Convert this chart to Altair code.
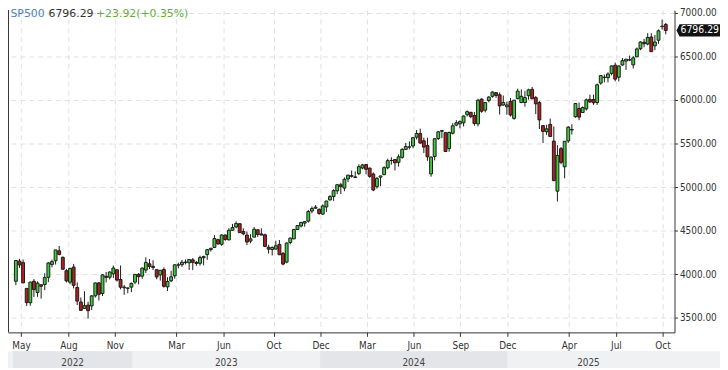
import json
import altair as alt
import pandas as pd

# ---------------- data ----------------
symbol_name = "SP500"
last_text = "6796.29"
change_text = "+23.92(+0.35%)"

opens = [3920, 4151, 4134, 3838, 3674, 3920, 3792, 3880, 3883, 3965,
         4113, 4155, 4269, 4195, 4041, 3910, 4083, 3849, 3682, 3609,
         3646, 3638, 3753, 3901, 3780, 3977, 3966, 4006, 4052, 3940,
         3853, 3843, 3853, 3911, 3999, 3979, 4049, 4120, 4091, 4053,
         3993, 4055, 3856, 3925, 3982, 4108, 4110, 4140, 4132, 4166,
         4136, 4126, 4190, 4226, 4283, 4308, 4397, 4344, 4450, 4395,
         4505, 4543, 4580, 4491, 4450, 4381, 4426, 4510, 4463, 4453,
         4310, 4284, 4289, 4343, 4239, 4140, 4364, 4406, 4514, 4554,
         4587, 4610, 4725, 4758, 4745, 4690, 4772, 4853, 4892, 4957,
         5026, 4989, 5093, 5131, 5111, 5154, 5219, 5258, 5218, 5150,
         5005, 5114, 5142, 5221, 5305, 5316, 5284, 5341, 5432, 5459,
         5471, 5572, 5614, 5531, 5476, 5151, 5351, 5557, 5640, 5624,
         5442, 5617, 5711, 5726, 5737, 5830, 5857, 5821, 5725, 6009,
         5882, 5992, 6041, 6083, 6058, 5941, 5921, 5982, 5788, 6014,
         5970, 5970, 6048, 6121, 6026, 5969, 5705, 5635, 5718, 5527,
         4953, 5441, 5233, 5529, 5655, 5807, 5902, 5855, 5897, 6005,
         6004, 5970, 6193, 6255, 6255, 6304, 6397, 6260, 6400, 6445,
         6457, 6401, 6494, 6587, 6661, 6641, 6721, 6620, 6684, 6845,
         6865]
highs = [4159, 4177, 4169, 3838, 3913, 3945, 3918, 3880, 4013, 4140,
         4167, 4280, 4325, 4204, 4062, 4076, 4119, 3907, 3734, 3806,
         3685, 3762, 3905, 3911, 4001, 4028, 4034, 4100, 4052, 4101,
         3877, 3846, 3906, 4003, 4015, 4078, 4195, 4176, 4161, 4053,
         4048, 4079, 3966, 4040, 4110, 4133, 4164, 4170, 4170, 4186,
         4154, 4213, 4212, 4290, 4299, 4448, 4408, 4458, 4457, 4528,
         4578, 4607, 4584, 4527, 4490, 4460, 4542, 4515, 4527, 4466,
         4339, 4319, 4385, 4393, 4256, 4365, 4421, 4521, 4560, 4600,
         4609, 4739, 4778, 4793, 4755, 4802, 4842, 4907, 4975, 5031,
         5048, 5111, 5140, 5190, 5179, 5262, 5264, 5264, 5222, 5168,
         5114, 5129, 5239, 5325, 5342, 5316, 5375, 5447, 5505, 5524,
         5570, 5655, 5670, 5567, 5566, 5350, 5563, 5644, 5651, 5627,
         5636, 5733, 5767, 5765, 5822, 5878, 5863, 5862, 6013, 6018,
         5973, 6044, 6099, 6085, 6085, 6050, 5980, 6022, 5997, 6128,
         6120, 6101, 6128, 6147, 6044, 5986, 5705, 5715, 5786, 5695,
         5481, 5459, 5528, 5700, 5720, 5959, 5969, 5924, 6016, 6060,
         6060, 6187, 6285, 6290, 6316, 6395, 6428, 6395, 6481, 6467,
         6508, 6502, 6600, 6671, 6699, 6764, 6764, 6745, 6808, 6921,
         6881]
lows = [3875, 4074, 3900, 3637, 3640, 3740, 3742, 3721, 3818, 3910,
        4080, 4112, 4218, 4057, 3907, 3886, 3838, 3647, 3584, 3604,
        3492, 3590, 3733, 3699, 3751, 3906, 3940, 3956, 3918, 3827,
        3765, 3783, 3795, 3887, 3885, 3949, 4015, 4060, 4048, 3943,
        3928, 3847, 3809, 3910, 3950, 4069, 4086, 4113, 4049, 4048,
        4098, 4099, 4103, 4166, 4261, 4307, 4341, 4327, 4385, 4389,
        4503, 4528, 4474, 4448, 4335, 4356, 4426, 4430, 4448, 4316,
        4238, 4216, 4284, 4223, 4104, 4127, 4344, 4402, 4510, 4537,
        4546, 4593, 4699, 4751, 4682, 4683, 4714, 4845, 4842, 4918,
        4920, 4953, 5056, 5108, 5104, 5137, 5203, 5146, 5107, 4953,
        4982, 5011, 5142, 5204, 5257, 5191, 5234, 5325, 5432, 5433,
        5446, 5546, 5497, 5391, 5302, 5119, 5306, 5540, 5561, 5402,
        5406, 5604, 5698, 5674, 5696, 5810, 5790, 5703, 5697, 5853,
        5857, 5972, 6025, 6024, 5832, 5932, 5829, 5809, 5773, 6007,
        5962, 5923, 6003, 6008, 5837, 5666, 5505, 5598, 5573, 5069,
        4835, 5262, 5101, 5507, 5603, 5795, 5767, 5852, 5878, 5964,
        5943, 5943, 6174, 6201, 6201, 6281, 6212, 6213, 6391, 6344,
        6444, 6360, 6491, 6570, 6603, 6626, 6550, 6570, 6644, 6806,
        6751]
closes = [4158, 4108, 3901, 3675, 3911, 3825, 3899, 3863, 3962, 4130,
          4145, 4280, 4228, 4058, 3924, 4067, 3873, 3693, 3586, 3640,
          3583, 3752, 3901, 3771, 3993, 3965, 4026, 4072, 3934, 3852,
          3845, 3840, 3895, 3999, 3973, 4071, 4136, 4090, 4079, 3970,
          4046, 3862, 3917, 3971, 4109, 4105, 4138, 4134, 4169, 4136,
          4124, 4192, 4205, 4282, 4299, 4410, 4348, 4450, 4399, 4505,
          4536, 4582, 4478, 4464, 4370, 4406, 4516, 4457, 4450, 4320,
          4288, 4308, 4327, 4224, 4117, 4358, 4415, 4514, 4559, 4595,
          4604, 4719, 4754, 4770, 4697, 4784, 4840, 4891, 4959, 5027,
          5006, 5089, 5137, 5124, 5117, 5234, 5254, 5204, 5123, 4967,
          5100, 5128, 5223, 5303, 5305, 5278, 5347, 5432, 5465, 5460,
          5567, 5615, 5505, 5459, 5347, 5344, 5554, 5634, 5648, 5408,
          5626, 5703, 5738, 5751, 5815, 5865, 5808, 5729, 5996, 5870,
          5969, 6032, 6090, 6051, 5931, 5970, 5942, 5827, 5997, 6101,
          6041, 6026, 6115, 6013, 5955, 5770, 5639, 5668, 5581, 5074,
          5363, 5283, 5525, 5687, 5660, 5958, 5803, 5912, 6000, 5977,
          5967, 6173, 6279, 6260, 6297, 6389, 6238, 6389, 6450, 6467,
          6460, 6482, 6584, 6664, 6644, 6716, 6553, 6664, 6792, 6840,
          6796.29]

x_tick_pos = [1.44, 14.56, 27.41, 44.4, 57.52, 71.39, 84.37, 97.25,
              110.24, 123.12, 136.13, 153.2, 166.21, 179.09]
x_tick_labels = ["May", "Aug", "Nov", "Mar", "Jun", "Oct", "Dec", "Mar",
                 "Jun", "Sep", "Dec", "Apr", "Jul", "Oct"]
y_ticks = [3500, 4000, 4500, 5000, 5500, 6000, 6500, 7000]
years = ["2022", "2023", "2024", "2025"]
year_start = [-0.81, 32.27, 84.27, 136.13]
year_end = [32.27, 84.27, 136.13, 181.06]

# ---------------- styling ----------------
W, H = 674, 326
X_DOMAIN = [-0.81, 181.06]
Y_DOMAIN = [3333.8, 7030.6]
GREEN = "#3fcc3f"
RED = "#b3201f"
EDGE = "#1a1a1a"
GRID = "#e1e1e1"
AXC = "#333333"
AXFONT = "DejaVu Sans Condensed, Liberation Sans, Arial"
HFONT = "DejaVu Sans"

df = pd.DataFrame({"i": list(range(len(closes))), "open": opens, "high": highs,
                   "low": lows, "close": closes})
df["dir"] = ["up" if c >= o else "down" for o, c in zip(opens, closes)]

yr = pd.DataFrame({"year": years, "start": year_start, "end": year_end,
                   "k": list(range(len(years)))})
yr["mid"] = (yr["start"] + yr["end"]) / 2

xs = alt.Scale(domain=X_DOMAIN, nice=False, zero=False)
ys = alt.Scale(domain=Y_DOMAIN, nice=False, zero=False)

label_expr = f"{json.dumps(x_tick_labels)}[indexof({json.dumps(x_tick_pos)}, datum.value)]"

xaxis = alt.Axis(values=x_tick_pos, labelExpr=label_expr, grid=True, gridDash=[5, 4],
                 gridColor=GRID, gridWidth=1, tickSize=4, tickColor=AXC, domainColor=AXC,
                 labelColor=AXC, labelFont=AXFONT, labelFontSize=10, labelPadding=4,
                 labelOverlap=False, labelFlush=False, labelBound=False, title=None)
yaxis = alt.Axis(orient="right", values=y_ticks, format=".2f", grid=True, gridDash=[5, 4],
                 gridColor=GRID, gridWidth=1, tickSize=3, tickColor=AXC, domainColor=AXC,
                 labelColor=AXC, labelFont=AXFONT, labelFontSize=10, labelPadding=2,
                 labelOverlap=False, labelFlush=False, labelBound=False, title=None)


def X(field):
    return alt.X(field, scale=xs, axis=xaxis, title=None)


def Y(field):
    return alt.Y(field, scale=ys, axis=yaxis, title=None)


one = pd.DataFrame({"t": [symbol_name], "v": [last_text], "c": [change_text],
                    "p": [closes[-1]]})

wicks = alt.Chart(df).mark_rule(color=EDGE, strokeWidth=1).encode(
    x=X("i:Q"), y=Y("low:Q"), y2="high:Q")

bodies = alt.Chart(df).mark_bar(width=2.9, stroke=EDGE, strokeWidth=1).encode(
    x=X("i:Q"), y=Y("open:Q"), y2="close:Q",
    color=alt.Color("dir:N", scale=alt.Scale(domain=["up", "down"], range=[GREEN, RED]),
                    legend=None))

band_bg = alt.Chart(one).mark_rect(color="#eff1f3").encode(
    x=alt.value(0), x2=alt.value(720), y=alt.value(345), y2=alt.value(362))

bands = alt.Chart(yr).mark_rect().encode(
    x=X("start:Q"), x2="end:Q",
    y=alt.value(345), y2=alt.value(362),
    color=alt.condition("datum.k % 2 == 0", alt.value("#e3e5e8"), alt.value("#eff1f3")))

year_text = alt.Chart(yr).mark_text(font=AXFONT, fontSize=10, color="#444",
                                    baseline="middle", align="center").encode(
    x=X("mid:Q"), y=alt.value(356.5), text="year:N")

left_border = alt.Chart(one).mark_rule(color=AXC, strokeWidth=1).encode(
    x=alt.value(0.5), y=alt.value(0), y2=alt.value(H))

h1 = alt.Chart(one).mark_text(font=HFONT, fontSize=11, color="#4d7fc4", align="left",
                              baseline="middle").encode(
    x=alt.value(2.5), y=alt.value(4.5), text="t:N")
h2 = alt.Chart(one).mark_text(font=HFONT, fontSize=11, color="#333333", align="left",
                              baseline="middle").encode(
    x=alt.value(41), y=alt.value(4.5), text="v:N")
h3 = alt.Chart(one).mark_text(font=HFONT, fontSize=11, color="#62ad3a", align="left",
                              baseline="middle").encode(
    x=alt.value(89), y=alt.value(4.5), text="c:N")

TAG = "M -1.09 0 L -0.95 -0.28 L 1 -0.28 L 1 0.28 L -0.95 0.28 Z"
tag = alt.Chart(one).mark_point(shape=TAG, size=1936, filled=True, color="#111111",
                                opacity=1, strokeWidth=0).encode(
    x=alt.value(700), y=Y("p:Q"))
tag_text = alt.Chart(one).mark_text(font=AXFONT, fontSize=10.5, color="white",
                                    align="left", baseline="middle").encode(
    x=alt.value(680), y=Y("p:Q"), text=alt.Text("p:Q", format=".2f"))

chart = alt.layer(wicks, bodies, band_bg, bands, year_text, left_border,
                  h1, h2, h3, tag, tag_text).properties(
    width=W, height=H,
    autosize=alt.AutoSizeParams(type="none"),
    padding={"left": 0, "top": 0, "right": 46, "bottom": 36},
    background="white",
).configure_view(stroke=None)

chart.save("out.html", embed_options={"renderer": "svg", "actions": False})
